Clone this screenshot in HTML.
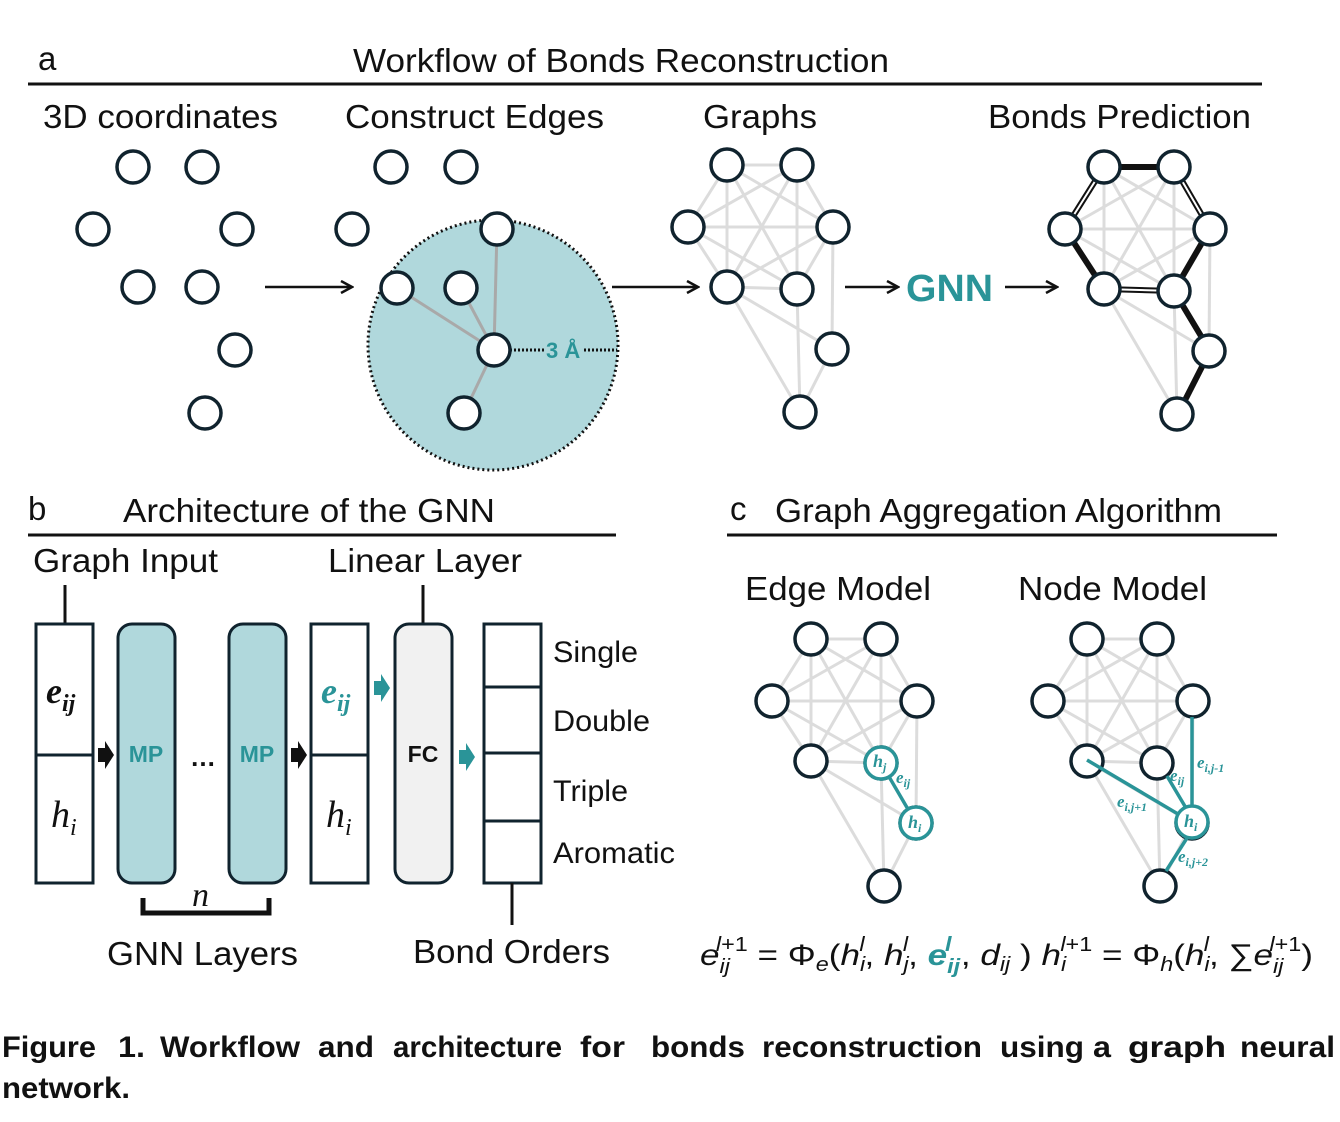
<!DOCTYPE html>
<html><head><meta charset="utf-8"><style>
html,body{margin:0;padding:0;background:#fff;}
svg{display:block;}
text{font-family:"Liberation Sans",sans-serif;}
.t{font-size:33px;fill:#111;}
.m{font-family:"Liberation Serif",serif;font-style:italic;}
</style></head><body>
<svg width="1340" height="1122" viewBox="0 0 1340 1122" xmlns="http://www.w3.org/2000/svg">
<defs>
<g id="ge" stroke="#dcdcdc" stroke-width="3">
<line x1="727" y1="165" x2="797" y2="165"/><line x1="727" y1="165" x2="688" y2="227"/><line x1="727" y1="165" x2="833" y2="227"/><line x1="727" y1="165" x2="727" y2="287"/><line x1="727" y1="165" x2="797" y2="289"/>
<line x1="797" y1="165" x2="688" y2="227"/><line x1="797" y1="165" x2="833" y2="227"/><line x1="797" y1="165" x2="727" y2="287"/><line x1="797" y1="165" x2="797" y2="289"/>
<line x1="688" y1="227" x2="833" y2="227"/><line x1="688" y1="227" x2="727" y2="287"/><line x1="688" y1="227" x2="797" y2="289"/>
<line x1="833" y1="227" x2="727" y2="287"/><line x1="833" y1="227" x2="797" y2="289"/><line x1="727" y1="287" x2="797" y2="289"/>
<line x1="833" y1="227" x2="832" y2="349"/><line x1="727" y1="287" x2="832" y2="349"/><line x1="727" y1="287" x2="800" y2="412"/><line x1="797" y1="289" x2="800" y2="412"/><line x1="832" y1="349" x2="800" y2="412"/>
</g>
<g id="gn" fill="#fff" stroke="#10232e" stroke-width="3.5">
<circle cx="727" cy="165" r="16"/><circle cx="797" cy="165" r="16"/><circle cx="688" cy="227" r="16"/><circle cx="833" cy="227" r="16"/><circle cx="727" cy="287" r="16"/><circle cx="797" cy="289" r="16"/><circle cx="832" cy="349" r="16"/><circle cx="800" cy="412" r="16"/>
</g>
<marker id="ar" markerWidth="14" markerHeight="14" refX="12" refY="7" orient="auto" markerUnits="userSpaceOnUse"><path d="M1,1 L12,7 L1,13" fill="none" stroke="#111" stroke-width="2.5"/></marker>
</defs>

<text x="38" y="70" class="t">a</text>
<text x="353" y="72" class="t" textLength="536" lengthAdjust="spacingAndGlyphs">Workflow of Bonds Reconstruction</text>
<line x1="28" y1="84" x2="1262" y2="84" stroke="#111" stroke-width="3"/>
<text x="43" y="128" class="t" textLength="235" lengthAdjust="spacingAndGlyphs">3D coordinates</text>
<text x="345" y="128" class="t" textLength="259" lengthAdjust="spacingAndGlyphs">Construct Edges</text>
<text x="703" y="128" class="t" textLength="114" lengthAdjust="spacingAndGlyphs">Graphs</text>
<text x="988" y="128" class="t" textLength="263" lengthAdjust="spacingAndGlyphs">Bonds Prediction</text>

<g fill="#fff" stroke="#10232e" stroke-width="3.5">
<circle cx="133" cy="167" r="16"/><circle cx="202" cy="167" r="16"/><circle cx="93" cy="229" r="16"/><circle cx="237" cy="229" r="16"/><circle cx="138" cy="287" r="16"/><circle cx="202" cy="287" r="16"/><circle cx="235" cy="350" r="16"/><circle cx="205" cy="413" r="16"/>
</g>
<line x1="265" y1="287" x2="352" y2="287" stroke="#111" stroke-width="2.5" marker-end="url(#ar)"/>

<circle cx="493" cy="345" r="125" fill="#b0d8dc" stroke="#111" stroke-width="3" stroke-dasharray="2 3"/>
<g stroke="#a9a9a9" stroke-width="3">
<line x1="494" y1="350" x2="497" y2="229"/><line x1="494" y1="350" x2="397" y2="288"/><line x1="494" y1="350" x2="461" y2="288"/><line x1="494" y1="350" x2="464" y2="413"/>
</g>
<line x1="510" y1="350" x2="544" y2="350" stroke="#111" stroke-width="3" stroke-dasharray="2 2"/>
<line x1="584" y1="350" x2="617" y2="350" stroke="#111" stroke-width="3" stroke-dasharray="2 2"/>
<text x="546" y="358" font-family="Liberation Serif" font-weight="bold" font-size="22" fill="#2a9498">3 Å</text>
<g fill="#fff" stroke="#10232e" stroke-width="3.5">
<circle cx="391" cy="167" r="16"/><circle cx="461" cy="167" r="16"/><circle cx="352" cy="229" r="16"/><circle cx="497" cy="229" r="16"/><circle cx="397" cy="288" r="16"/><circle cx="461" cy="288" r="16"/><circle cx="494" cy="350" r="16"/><circle cx="464" cy="413" r="16"/>
</g>
<line x1="612" y1="287" x2="698" y2="287" stroke="#111" stroke-width="2.5" marker-end="url(#ar)"/>

<use href="#ge"/><use href="#gn"/>
<line x1="845" y1="287" x2="898" y2="287" stroke="#111" stroke-width="2.5" marker-end="url(#ar)"/>
<text x="906" y="301" font-weight="bold" font-size="38" fill="#2a9498" textLength="87" lengthAdjust="spacingAndGlyphs">GNN</text>
<line x1="1005" y1="287" x2="1057" y2="287" stroke="#111" stroke-width="2.5" marker-end="url(#ar)"/>

<g transform="translate(377,2)"><use href="#ge"/></g>
<g stroke="#111" stroke-width="6" fill="none">
<line x1="1104" y1="167" x2="1174" y2="167"/>
<line x1="1065" y1="229" x2="1104" y2="289"/>
<line x1="1174" y1="291" x2="1210" y2="229"/>
<line x1="1174" y1="291" x2="1210" y2="351"/>
<line x1="1210" y1="351" x2="1178" y2="414"/>
</g>
<g stroke="#111" stroke-width="6"><line x1="1104" y1="167" x2="1065" y2="229"/><line x1="1174" y1="167" x2="1210" y2="229"/><line x1="1104" y1="289" x2="1174" y2="291"/></g>
<g stroke="#fff" stroke-width="2"><line x1="1104" y1="167" x2="1065" y2="229"/><line x1="1174" y1="167" x2="1210" y2="229"/><line x1="1104" y1="289" x2="1174" y2="291"/></g>
<g transform="translate(377,2)"><use href="#gn"/></g>

<text x="28" y="520" class="t">b</text>
<text x="123" y="522" class="t" textLength="372" lengthAdjust="spacingAndGlyphs">Architecture of the GNN</text>
<line x1="28" y1="535" x2="616" y2="535" stroke="#111" stroke-width="3"/>
<text x="33" y="572" class="t" textLength="185" lengthAdjust="spacingAndGlyphs">Graph Input</text>
<text x="328" y="572" class="t" textLength="194" lengthAdjust="spacingAndGlyphs">Linear Layer</text>
<line x1="65" y1="585" x2="65" y2="623" stroke="#111" stroke-width="3"/>
<line x1="423" y1="585" x2="423" y2="623" stroke="#111" stroke-width="3"/>

<g stroke="#10232e" stroke-width="3">
<rect x="36" y="624" width="57" height="259" fill="#fff"/><line x1="36" y1="755" x2="93" y2="755"/>
<rect x="118" y="624" width="57" height="259" rx="14" fill="#b0d8dc"/>
<rect x="229" y="624" width="57" height="259" rx="14" fill="#b0d8dc"/>
<rect x="311" y="624" width="57" height="259" fill="#fff"/><line x1="311" y1="755" x2="368" y2="755"/>
<rect x="395" y="624" width="57" height="259" rx="14" fill="#f1f1f1"/>
<rect x="484" y="624" width="57" height="259" fill="#fff"/>
<line x1="484" y1="687" x2="541" y2="687"/><line x1="484" y1="753" x2="541" y2="753"/><line x1="484" y1="821" x2="541" y2="821"/>
</g>
<line x1="512" y1="883" x2="512" y2="925" stroke="#111" stroke-width="3"/>
<text x="46" y="703" class="m" font-size="36" font-weight="bold" fill="#111">e<tspan font-size="24" dy="8">ij</tspan></text>
<text x="51" y="827" class="m" font-size="38" fill="#111">h<tspan font-size="24" dy="8">i</tspan></text>
<text x="321" y="703" class="m" font-size="36" font-weight="bold" fill="#2a9498">e<tspan font-size="24" dy="8">ij</tspan></text>
<text x="326" y="827" class="m" font-size="38" fill="#111">h<tspan font-size="24" dy="8">i</tspan></text>
<text x="146" y="762" text-anchor="middle" font-weight="bold" font-size="23" fill="#2a9498">MP</text>
<text x="257" y="762" text-anchor="middle" font-weight="bold" font-size="23" fill="#2a9498">MP</text>
<text x="423" y="762" text-anchor="middle" font-weight="bold" font-size="23" fill="#111">FC</text>
<text x="190" y="766" font-weight="bold" font-size="26" fill="#111">…</text>
<path d="M98,748 h7 v-7 l9,14 l-9,14 v-7 h-7z" fill="#111"/>
<path d="M291,748 h7 v-7 l9,14 l-9,14 v-7 h-7z" fill="#111"/>
<path d="M374,681 h7 v-7 l9,14 l-9,14 v-7 h-7z" fill="#2a9498"/>
<path d="M459,750 h7 v-7 l9,14 l-9,14 v-7 h-7z" fill="#2a9498"/>
<path d="M143,898 v15 h126 v-15" fill="none" stroke="#111" stroke-width="5"/>
<text x="192" y="906" class="m" font-size="34" fill="#111">n</text>
<text x="553" y="662" font-size="30" fill="#111" textLength="85" lengthAdjust="spacingAndGlyphs">Single</text>
<text x="553" y="731" font-size="30" fill="#111" textLength="97" lengthAdjust="spacingAndGlyphs">Double</text>
<text x="553" y="801" font-size="30" fill="#111" textLength="75" lengthAdjust="spacingAndGlyphs">Triple</text>
<text x="553" y="863" font-size="30" fill="#111" textLength="122" lengthAdjust="spacingAndGlyphs">Aromatic</text>
<text x="107" y="965" class="t" textLength="191" lengthAdjust="spacingAndGlyphs">GNN Layers</text>
<text x="413" y="963" class="t" textLength="197" lengthAdjust="spacingAndGlyphs">Bond Orders</text>

<text x="730" y="520" class="t">c</text>
<text x="775" y="522" class="t" textLength="447" lengthAdjust="spacingAndGlyphs">Graph Aggregation Algorithm</text>
<line x1="727" y1="535" x2="1277" y2="535" stroke="#111" stroke-width="3"/>
<text x="745" y="600" class="t" textLength="186" lengthAdjust="spacingAndGlyphs">Edge Model</text>
<text x="1018" y="600" class="t" textLength="189" lengthAdjust="spacingAndGlyphs">Node Model</text>

<g transform="translate(84,474)"><use href="#ge"/><use href="#gn"/></g>
<g transform="translate(360,474)"><use href="#ge"/><use href="#gn"/></g>
<line x1="881" y1="763" x2="916" y2="823" stroke="#2a9498" stroke-width="3.5"/>
<circle cx="881" cy="763" r="16" fill="#fff" stroke="#2a9498" stroke-width="3.5"/>
<circle cx="916" cy="823" r="16" fill="#fff" stroke="#2a9498" stroke-width="3.5"/>
<text x="873" y="767" class="m" font-weight="bold" font-size="18" fill="#2a9498">h<tspan font-size="12" dy="4">j</tspan></text>
<text x="908" y="828" class="m" font-weight="bold" font-size="18" fill="#2a9498">h<tspan font-size="12" dy="4">i</tspan></text>
<text x="896" y="783" class="m" font-weight="bold" font-size="17" fill="#2a9498">e<tspan font-size="12" dy="4">ij</tspan></text>
<g stroke="#2a9498" stroke-width="3.5">
<line x1="1192" y1="717" x2="1192" y2="806"/><line x1="1087" y1="760" x2="1178" y2="814"/><line x1="1167" y1="776" x2="1186" y2="808"/><line x1="1187" y1="838" x2="1166" y2="871"/>
</g>
<circle cx="1192" cy="822" r="16" fill="#fff" stroke="#2a9498" stroke-width="3.5"/>
<text x="1184" y="827" class="m" font-weight="bold" font-size="18" fill="#2a9498">h<tspan font-size="12" dy="4">i</tspan></text>
<text x="1170" y="781" class="m" font-weight="bold" font-size="17" fill="#2a9498">e<tspan font-size="12" dy="4">ij</tspan></text>
<text x="1197" y="768" class="m" font-weight="bold" font-size="17" fill="#2a9498">e<tspan font-size="12" dy="4">i,j-1</tspan></text>
<text x="1117" y="807" class="m" font-weight="bold" font-size="17" fill="#2a9498">e<tspan font-size="12" dy="4">i,j+1</tspan></text>
<text x="1178" y="862" class="m" font-weight="bold" font-size="17" fill="#2a9498">e<tspan font-size="12" dy="4">i,j+2</tspan></text>

<g font-family="Liberation Serif,serif" font-size="30" fill="#111">
<text x="700" y="965" textLength="613" lengthAdjust="spacingAndGlyphs"><tspan font-style="italic">e</tspan><tspan font-size="20" font-style="italic" dy="8">ij</tspan><tspan font-size="20" font-style="italic" dx="-12" dy="-22">l</tspan><tspan font-size="20">+1</tspan><tspan dy="14"> = Φ</tspan><tspan font-size="20" font-style="italic" dy="6">e</tspan><tspan dy="-6">(</tspan><tspan font-style="italic">h</tspan><tspan font-size="20" font-style="italic" dy="6">i</tspan><tspan font-size="20" font-style="italic" dx="-5" dy="-20">l</tspan><tspan dy="14">, </tspan><tspan font-style="italic">h</tspan><tspan font-size="20" font-style="italic" dy="6">j</tspan><tspan font-size="20" font-style="italic" dx="-5" dy="-20">l</tspan><tspan dy="14">, </tspan><tspan font-style="italic" font-weight="bold" fill="#2a9498">e</tspan><tspan font-size="20" font-weight="bold" font-style="italic" fill="#2a9498" dy="8">ij</tspan><tspan font-size="20" font-weight="bold" font-style="italic" fill="#2a9498" dx="-13" dy="-22">l</tspan><tspan dx="8" dy="14">, </tspan><tspan font-style="italic">d</tspan><tspan font-size="20" font-style="italic" dy="6">ij</tspan><tspan dy="-6"> )  </tspan><tspan font-style="italic">h</tspan><tspan font-size="20" font-style="italic" dy="6">i</tspan><tspan font-size="20" font-style="italic" dx="-5" dy="-20">l</tspan><tspan font-size="20">+1</tspan><tspan dy="14"> = Φ</tspan><tspan font-size="20" font-style="italic" dy="6">h</tspan><tspan dy="-6">(</tspan><tspan font-style="italic">h</tspan><tspan font-size="20" font-style="italic" dy="6">i</tspan><tspan font-size="20" font-style="italic" dx="-5" dy="-20">l</tspan><tspan dy="14">, ∑</tspan><tspan font-style="italic">e</tspan><tspan font-size="20" font-style="italic" dy="8">ij</tspan><tspan font-size="20" font-style="italic" dx="-12" dy="-22">l</tspan><tspan font-size="20">+1</tspan><tspan dy="14">)</tspan></text>
</g>

<g font-weight="bold" font-size="30" fill="#111">
<text x="2" y="1057" textLength="94" lengthAdjust="spacingAndGlyphs">Figure</text>
<text x="118" y="1057" textLength="27" lengthAdjust="spacingAndGlyphs">1.</text>
<text x="160" y="1057" textLength="140" lengthAdjust="spacingAndGlyphs">Workflow</text>
<text x="318" y="1057" textLength="56" lengthAdjust="spacingAndGlyphs">and</text>
<text x="393" y="1057" textLength="169" lengthAdjust="spacingAndGlyphs">architecture</text>
<text x="580" y="1057" textLength="45" lengthAdjust="spacingAndGlyphs">for</text>
<text x="651" y="1057" textLength="94" lengthAdjust="spacingAndGlyphs">bonds</text>
<text x="762" y="1057" textLength="220" lengthAdjust="spacingAndGlyphs">reconstruction</text>
<text x="1000" y="1057" textLength="84" lengthAdjust="spacingAndGlyphs">using</text>
<text x="1093" y="1057" textLength="18" lengthAdjust="spacingAndGlyphs">a</text>
<text x="1128" y="1057" textLength="98" lengthAdjust="spacingAndGlyphs">graph</text>
<text x="1240" y="1057" textLength="95" lengthAdjust="spacingAndGlyphs">neural</text>
<text x="2" y="1098" textLength="128" lengthAdjust="spacingAndGlyphs">network.</text>
</g>
</svg>
</body></html>
